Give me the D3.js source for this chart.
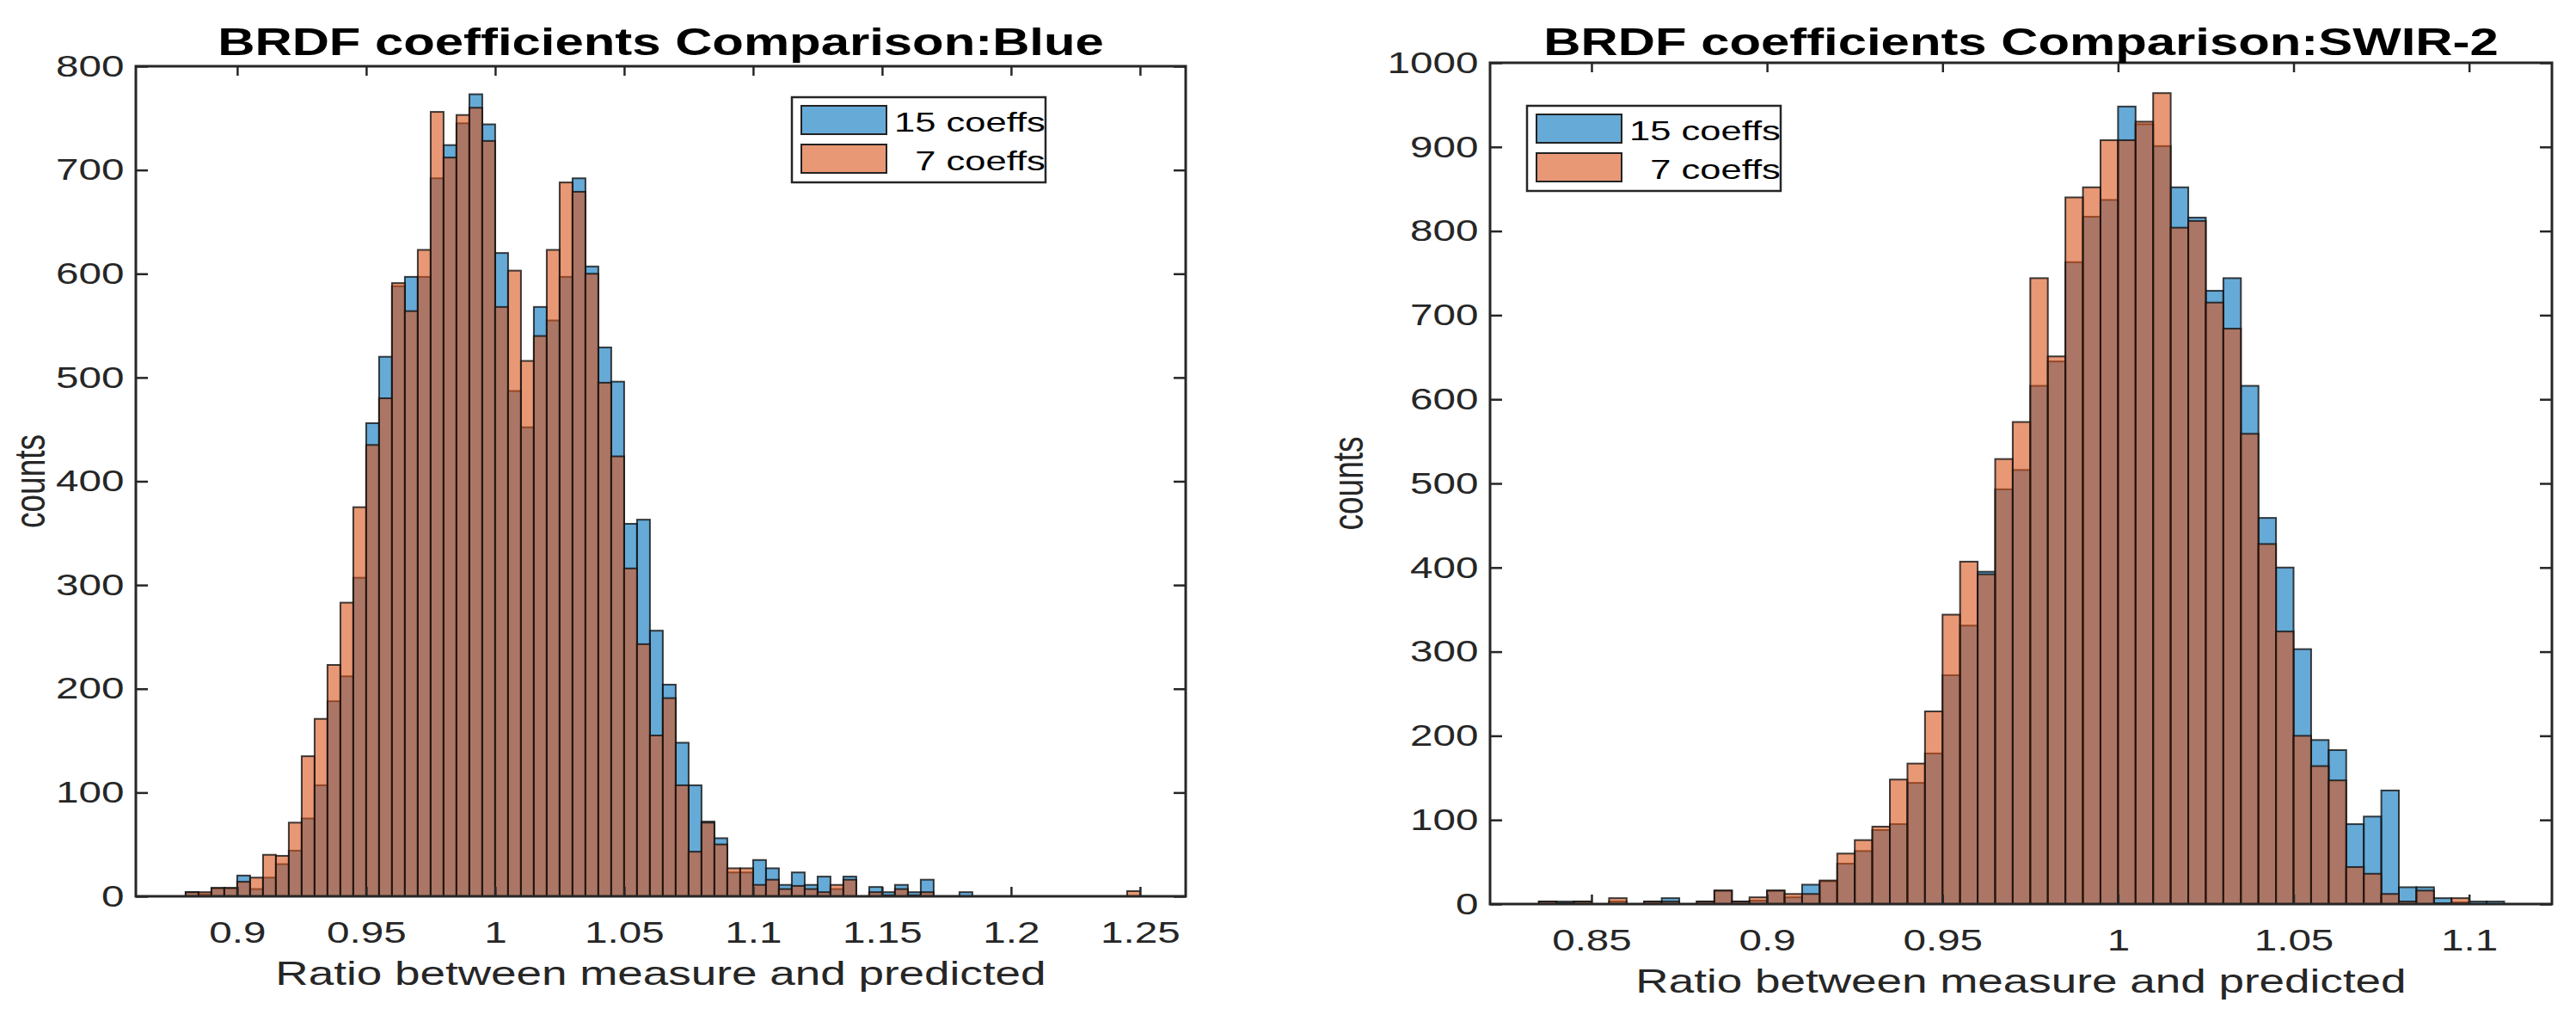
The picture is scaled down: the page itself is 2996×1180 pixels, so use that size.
<!DOCTYPE html>
<html>
<head>
<meta charset="utf-8">
<script src="https://cdn.jsdelivr.net/npm/d3@7"></script>
<style>
  body { margin: 0; background: #fff; }
</style>
</head>
<body>
<svg id="fig"></svg>
<script>
// histogram bins are 0.005 wide in both panels
const binWidth = 0.005;

// Blue band
const blueBinStart = 0.880;
const blueCounts15 = [4,2,8,8,20,7,18,31,44,75, 107,188,212,307,456,520,588,597,597,692,
  724,745,773,744,620,487,452,568,555,597, 692,607,529,496,359,363,256,204,148,107,
  72,56,23,23,35,27,11,23,11,19, 7,19,0,9,4,11,4,16,0,0,
  4,0,0,0,0,0,0,0,0,0, 0,0,0,0];
const blueCounts7 = [4,4,8,8,14,18,40,39,71,135, 171,223,283,375,435,480,591,564,623,756,
  712,753,760,728,568,603,516,540,623,688, 679,600,495,424,316,243,155,191,107,43,
  71,50,27,27,11,16,7,10,7,4, 11,16,0,4,1,7,1,4,0,0,
  0,0,0,0,0,0,0,0,0,0, 0,0,0,5];
const blueXTicks = [0.9, 0.95, 1, 1.05, 1.1, 1.15, 1.2, 1.25];
const blueXLabels = ["0.9", "0.95", "1", "1.05", "1.1", "1.15", "1.2", "1.25"];
const blueYTicks = [0, 100, 200, 300, 400, 500, 600, 700, 800];

// SWIR-2 band
const swirBinStart = 0.835;
const swirCounts15 = [3,3,3,0,3,0,3,7,0,3, 16,3,4,16,8,23,27,48,63,88,
  95,144,179,272,331,395,493,516,616,645, 763,817,837,948,927,901,852,816,729,744,
  616,459,400,303,195,183,95,104,135,20, 20,7,2,3,3];
const swirCounts7 = [3,1,3,0,7,0,3,3,0,3, 16,3,8,16,12,12,28,60,76,92,
  148,167,229,344,407,392,529,573,744,651, 840,852,908,908,930,964,804,812,715,684,
  559,428,324,200,164,147,44,36,12,3, 16,1,7,0,0];
const swirXTicks = [0.85, 0.9, 0.95, 1, 1.05, 1.1];
const swirXLabels = ["0.85", "0.9", "0.95", "1", "1.05", "1.1"];
const swirYTicks = [0, 100, 200, 300, 400, 500, 600, 700, 800, 900, 1000];

const seriesNames = ["15 coeffs", "7 coeffs"];
const seriesColors = ["#0072BD", "#D95319"];

// the reference picture is stretched sideways, so text is too
const S = 1.36;
const ink = "#262626";

const svg = d3.select("#fig")
  .attr("width", 2996)
  .attr("height", 1180)
  .style("font-family", '"Liberation Sans", Arial, Helvetica, sans-serif');

const panels = [
  { title: "BRDF coefficients Comparison:Blue", start: blueBinStart, c15: blueCounts15, c7: blueCounts7,
    xDomain: [0.8607, 1.2677], yMax: 800, xTicks: blueXTicks, xLabels: blueXLabels, yTicks: blueYTicks,
    left: 158, right: 1379, top: 77, bottom: 1042, legend: [921, 113], ylabelX: 52 },
  { title: "BRDF coefficients Comparison:SWIR-2", start: swirBinStart, c15: swirCounts15, c7: swirCounts7,
    xDomain: [0.8211, 1.1236], yMax: 1000, xTicks: swirXTicks, xLabels: swirXLabels, yTicks: swirYTicks,
    left: 1733, right: 2968, top: 73, bottom: 1051, legend: [1776, 123], ylabelX: 1585 }
];

panels.forEach(drawPanel);

function drawPanel(p) {
  const x = d3.scaleLinear().domain(p.xDomain).range([p.left, p.right]);
  const y = d3.scaleLinear().domain([0, p.yMax]).range([p.bottom, p.top]);
  const g = svg.append("g");

  // bars: 15 coeffs first, 7 coeffs drawn over it
  [p.c15, p.c7].forEach((counts, k) => {
    const bins = counts.map((c, i) => ({ x0: p.start + i * binWidth, c: c }))
      .filter(d => d.c > 0);
    g.append("g").selectAll("rect")
      .data(bins)
      .enter().append("rect")
      .attr("x", d => x(d.x0))
      .attr("width", d => x(d.x0 + binWidth) - x(d.x0))
      .attr("y", d => y(d.c))
      .attr("height", d => y(0) - y(d.c))
      .attr("fill", seriesColors[k])
      .attr("fill-opacity", 0.6)
      .attr("stroke", "#111")
      .attr("stroke-opacity", 0.8)
      .attr("stroke-width", 2);
  });

  // axes, ticks pointing inward on all four sides
  const gx = g.append("g")
    .attr("transform", `translate(0,${p.bottom})`)
    .call(d3.axisBottom(x).tickValues(p.xTicks).tickFormat((d, i) => p.xLabels[i])
      .tickSizeInner(-11).tickSizeOuter(0).tickPadding(29));
  const gy = g.append("g")
    .attr("transform", `translate(${p.left},0)`)
    .call(d3.axisLeft(y).tickValues(p.yTicks).tickFormat(d3.format("d"))
      .tickSizeInner(-14).tickSizeOuter(0).tickPadding(10));
  const gt = g.append("g")
    .attr("transform", `translate(0,${p.top})`)
    .call(d3.axisTop(x).tickValues(p.xTicks).tickFormat("").tickSizeInner(-11).tickSizeOuter(0));
  const gr = g.append("g")
    .attr("transform", `translate(${p.right},0)`)
    .call(d3.axisRight(y).tickValues(p.yTicks).tickFormat("").tickSizeInner(-14).tickSizeOuter(0));

  [gx, gy, gt, gr].forEach(a => {
    a.select(".domain").remove();
    a.selectAll(".tick line").attr("stroke", ink).attr("stroke-width", 2.5);
    a.selectAll(".tick text")
      .attr("fill", ink)
      .attr("font-size", 35)
      .attr("font-family", null)
      .attr("transform", `scale(${S},1)`);
  });

  g.append("rect")
    .attr("x", p.left).attr("y", p.top)
    .attr("width", p.right - p.left).attr("height", p.bottom - p.top)
    .attr("fill", "none").attr("stroke", ink).attr("stroke-width", 3);

  // title and labels
  g.append("text")
    .attr("transform", `translate(${(p.left + p.right) / 2},64) scale(${S},1)`)
    .attr("text-anchor", "middle")
    .attr("font-size", 44)
    .attr("font-weight", "bold")
    .attr("fill", "#000")
    .text(p.title);

  g.append("text")
    .attr("transform", `translate(${(p.left + p.right) / 2},${p.bottom + 103}) scale(${S},1)`)
    .attr("text-anchor", "middle")
    .attr("font-size", 39)
    .attr("fill", ink)
    .text("Ratio between measure and predicted");

  g.append("text")
    .attr("transform", `translate(${p.ylabelX},${(p.top + p.bottom) / 2}) scale(${S},1) rotate(-90)`)
    .attr("text-anchor", "middle")
    .attr("font-size", 37)
    .attr("fill", ink)
    .text("counts");

  // legend
  const lg = g.append("g").attr("transform", `translate(${p.legend[0]},${p.legend[1]})`);
  lg.append("rect")
    .attr("width", 295).attr("height", 99)
    .attr("fill", "#fff").attr("stroke", ink).attr("stroke-width", 2.5);
  lg.selectAll(".swatch")
    .data(seriesNames)
    .enter().append("rect")
    .attr("class", "swatch")
    .attr("x", 11)
    .attr("y", (d, i) => 10 + i * 45)
    .attr("width", 99)
    .attr("height", 33)
    .attr("fill", (d, i) => seriesColors[i])
    .attr("fill-opacity", 0.6)
    .attr("stroke", "#222")
    .attr("stroke-width", 2);
  const t1 = lg.append("text")
    .attr("transform", `translate(119,40) scale(${S},1)`)
    .attr("font-size", 32)
    .attr("fill", "#000")
    .text(seriesNames[0]);
  const endX = 119 + t1.node().getComputedTextLength() * S;
  lg.append("text")
    .attr("transform", `translate(${endX},85) scale(${S},1)`)
    .attr("text-anchor", "end")
    .attr("font-size", 32)
    .attr("fill", "#000")
    .text(seriesNames[1]);
}
</script>
</body>
</html>
